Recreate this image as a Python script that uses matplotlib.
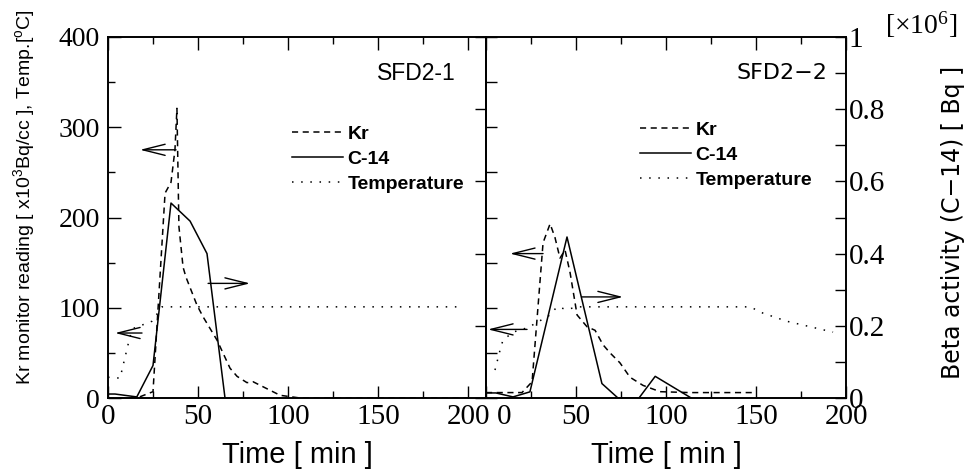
import matplotlib
matplotlib.use('Agg')
import matplotlib.pyplot as plt
from matplotlib import font_manager
from matplotlib.ticker import MultipleLocator, FixedLocator, FuncFormatter

# ---- data ----
# SFD2-1
kr1_t = [0, 16, 25, 31.7, 35, 37.2, 38.3, 39.4, 41.7, 43.3, 49.4, 52.8, 60.6, 67.8, 71.7, 77.2, 80.6, 95.6, 106.7, 200]
kr1_v = [0, 0, 7, 227, 239, 275, 321, 190, 145, 134, 103, 90, 64, 33, 24, 17, 18, 3, 0, 0]
c14_1_t = [0, 3.9, 16, 25, 35, 45.6, 55, 65]
c14_1_v = [0.011, 0.011, 0.003, 0.09, 0.54, 0.49, 0.40, 0]
temp1_t = [0, 6.7, 12.2, 13.9, 24.4, 30, 197]
temp1_v = [23, 22, 68, 77, 85, 101, 101]

# SFD2-2
kr2_t = [0, 20, 25.6, 31.7, 35.6, 38.3, 41.1, 43.9, 46.7, 50.6, 56.1, 60.6, 65, 68.9, 74.4, 80, 87.2, 96.7, 113, 149.4]
kr2_v = [6, 6, 18, 172, 193, 178, 155, 164, 139, 92, 79, 75, 59, 50, 39, 23, 14, 7, 6, 6]
c14_2_t = [0, 5.5, 15, 24.4, 45, 64.4, 73.3, 85, 94, 114]
c14_2_v = [0.014, 0.014, 0.003, 0.017, 0.446, 0.04, 0, 0, 0.06, 0]
temp2_t = [5, 7.8, 9.4, 15, 23.3, 35.6, 39.4, 45, 50.6, 146.7, 153.9, 167.2, 192.8]
temp2_v = [31, 53, 64, 73, 78, 92, 101, 98, 101, 101, 94, 85, 73]

# arrows: (tail t, head t, left-scale value)
arrows1 = [(37.8, 17.8, 275), (18.9, 3.9, 72), (55.6, 78.9, 127)]
arrows2 = [(31.7, 13.3, 160), (22.8, 1.1, 76), (53.3, 76.1, 112)]

x_ticks = [0, 50, 100, 150, 200]
right_ticks = [0, 0.2, 0.4, 0.6, 0.8, 1.0]

names = {f.name for f in font_manager.fontManager.ttflist}
narrow = 'Liberation Sans Narrow' if 'Liberation Sans Narrow' in names else 'Liberation Sans'
ylab_size = 17 if narrow == 'Liberation Sans Narrow' else 14

plt.rcParams['font.family'] = 'Liberation Serif'
plt.rcParams['mathtext.fontset'] = 'custom'
plt.rcParams['mathtext.default'] = 'regular'
plt.rcParams['axes.linewidth'] = 1.2

fig = plt.figure(figsize=(9.71, 4.71), dpi=100)
ax1 = fig.add_axes([108/971, 73/471, 378/971, 361/471])
ax2 = fig.add_axes([486/971, 73/471, 360/971, 361/471])
ax1r = ax1.twinx()
ax2r = ax2.twinx()

dash = (0, (4, 3))
dots = (0, (1, 5))
lw = 1.1


def draw(ax, axr, kt, kv, ct, cv, tt, tv, arrows):
    ax.plot(kt, kv, color='black', lw=lw, linestyle=dash, label='Kr')
    axr.plot(ct, cv, color='black', lw=lw, linestyle='-')
    ax.plot([], [], color='black', lw=lw, linestyle='-', label='C-14')
    ax.plot(tt, tv, color='black', lw=lw, linestyle=dots, label='Temperature')
    for t0, t1, v in arrows:
        ax.annotate('', xy=(t1, v), xytext=(t0, v),
                    arrowprops=dict(arrowstyle='->,head_length=1.6,head_width=0.4',
                                    lw=1.0, color='black', shrinkA=0, shrinkB=0))
    ax.set_ylim(0, 400)
    axr.set_ylim(0, 1)


draw(ax1, ax1r, kr1_t, kr1_v, c14_1_t, c14_1_v, temp1_t, temp1_v, arrows1)
draw(ax2, ax2r, kr2_t, kr2_v, c14_2_t, c14_2_v, temp2_t, temp2_v, arrows2)

ax1.set_xlim(0, 210)
ax2.set_xlim(0, 200)

for ax in (ax1, ax2):
    ax.xaxis.set_major_locator(FixedLocator(x_ticks))
    ax.xaxis.set_minor_locator(MultipleLocator(25))
    ax.tick_params(axis='x', which='both', direction='in', top=True, labelsize=21, pad=4)
    ax.tick_params(axis='x', which='major', length=9, width=1)
    ax.tick_params(axis='x', which='minor', length=5, width=1)
    ax.set_xlabel('Time [ min ]', family='Liberation Sans', fontsize=21, labelpad=8)

# the right panel's "0" sits a little right of its tick, next to the left "200"
ax2.xaxis.set_major_formatter(FuncFormatter(lambda v, p: '' if v == 0 else '%g' % v))
ax2.annotate('0', xy=(0, 0), xycoords='axes fraction', xytext=(13, -4),
             textcoords='offset points', ha='center', va='top', fontsize=21)

# left panel, left scale
ax1.yaxis.set_major_locator(MultipleLocator(100))
ax1.yaxis.set_minor_locator(MultipleLocator(50))
ax1.tick_params(axis='y', which='both', direction='in', labelsize=20, pad=6)
ax1.tick_params(axis='y', which='major', length=9, width=1)
ax1.tick_params(axis='y', which='minor', length=5, width=1)
# left panel, right scale
ax1r.yaxis.set_major_locator(MultipleLocator(0.2))
ax1r.tick_params(axis='y', direction='in', length=8, width=1, labelright=False)

# right panel, left scale
ax2.yaxis.set_major_locator(MultipleLocator(50))
ax2.tick_params(axis='y', direction='in', length=8, width=1, labelleft=False)
# right panel, right scale
ax2r.yaxis.set_major_locator(FixedLocator(right_ticks))
ax2r.yaxis.set_minor_locator(MultipleLocator(0.1))
ax2r.yaxis.set_major_formatter(FuncFormatter(lambda v, p: '%g' % v))
ax2r.tick_params(axis='y', which='both', direction='in', length=8, width=1, labelsize=21, pad=2)

for ax in (ax1, ax2, ax1r, ax2r):
    for s in ax.spines.values():
        s.set_linewidth(1.2)

legend_kw = dict(frameon=False, loc='upper left', borderpad=0, borderaxespad=0,
                 handlelength=2.6, handletextpad=0.25, labelspacing=0.38,
                 prop={'family': 'Liberation Sans', 'weight': 'bold', 'size': 14})
ax1.legend(bbox_to_anchor=(0.487, 0.756), **legend_kw)
ax2.legend(bbox_to_anchor=(0.428, 0.766), **legend_kw)

ax1.text(0.712, 0.90, 'SFD2-1', transform=ax1.transAxes, ha='left', va='center',
         family='Liberation Sans', fontsize=16.5)
ax2.text(0.697, 0.90, 'SFD2\u22122', transform=ax2.transAxes, ha='left', va='center',
         family='DejaVu Sans', fontsize=16)

fig.text(24/971, 1 - 197/471, 'Kr monitor reading [ x10$^3$Bq/cc ], Temp.[$^o$C]',
         rotation=90, ha='center', va='center', family=narrow, fontsize=ylab_size)
fig.text(953/971, 1 - 222/471, 'Beta activity (C\u221214) [ Bq ]',
         rotation=90, ha='center', va='center', family='DejaVu Sans', fontsize=17)
fig.text(921/971, 1 - 25/471, '[\u00d710$^6$]', ha='center', va='center',
         family='Liberation Serif', fontsize=20)

fig.savefig('out.png', dpi=100)
